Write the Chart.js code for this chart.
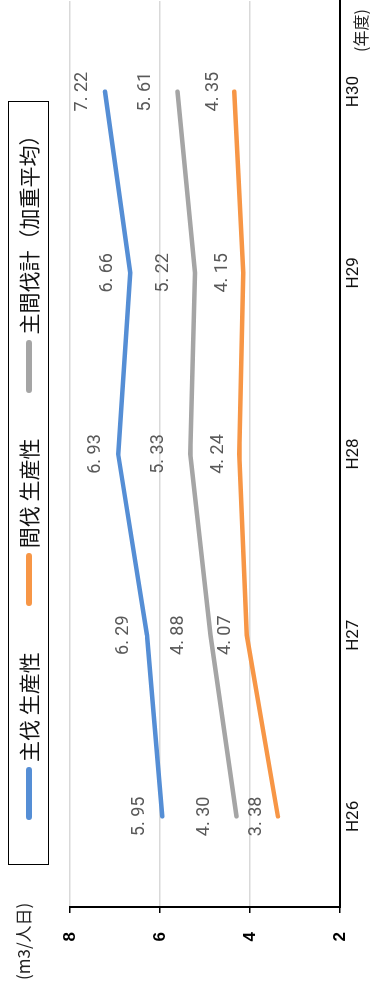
<!DOCTYPE html>
<html>
<head>
<meta charset="utf-8">
<script src="https://cdn.jsdelivr.net/npm/chart.js@4/dist/chart.umd.min.js"></script>
<style>
    html, body { margin: 0; padding: 0; background: #fff; }
    body { width: 370px; height: 988px; overflow: hidden; position: relative; }
    #wrap {
        position: absolute; left: 0; top: 0;
        width: 988px; height: 370px;
        transform-origin: top left;
        transform: translate(0, 988px) rotate(-90deg);
        font-family: 'Noto Sans CJK JP', sans-serif;
    }
    #chart { position: absolute; left: 0; top: 0; }
    #legend {
        position: absolute; left: 123px; top: 8px; width: 764px; height: 41px;
        box-sizing: border-box; border: 1px solid #000;
        display: flex; align-items: center; padding-left: 44px; gap: 46px;
    }
    .item { display: flex; align-items: center; }
    .swatch { width: 53px; height: 6px; border-radius: 3px; margin-right: 5px; }
    .item span { font-size: 21px; color: #111; white-space: nowrap; line-height: 1; }
    .unit { position: absolute; font-size: 17px; color: #222; white-space: nowrap; line-height: 1; }
</style>
</head>
<body>
<div id="wrap">
    <canvas id="chart" width="988" height="370"></canvas>
    <div id="legend"></div>
    <div class="unit" id="yUnit" style="left: 8px; top: 14px;">(m3/人日)</div>
    <div class="unit" id="xUnit" style="left: 936px; top: 352px; font-size: 16px;">(年度)</div>
</div>
<script>
const categories = ['H26', 'H27', 'H28', 'H29', 'H30'];
const mainCut = [5.95, 6.29, 6.93, 6.66, 7.22];
const thinning = [3.38, 4.07, 4.24, 4.15, 4.35];
const combined = [4.30, 4.88, 5.33, 5.22, 5.61];
const seriesNames = ['主伐 生産性', '間伐 生産性', '主間伐計（加重平均）'];
const yMin = 2, yMax = 8, yStep = 2;

const colors = ['#558ED5', '#F79646', '#A5A5A5'];
const labelOffsets = [23, 21, 32];

// value labels above each point
const valueLabels = {
    id: 'valueLabels',
    afterDatasetsDraw(chart) {
        const ctx = chart.ctx;
        ctx.save();
        ctx.font = '18px Roboto, sans-serif';
        ctx.fillStyle = '#595959';
        ctx.textAlign = 'center';
        ctx.textBaseline = 'middle';
        chart.data.datasets.forEach((ds, i) => {
            chart.getDatasetMeta(i).data.forEach((pt, j) => {
                const txt = ds.data[j].toFixed(2).replace('.', '. ');
                ctx.fillText(txt, pt.x, pt.y - ds.labelOffset);
            });
        });
        ctx.restore();
    }
};

const datasets = [mainCut, thinning, combined].map((d, i) => ({
    label: seriesNames[i],
    data: d,
    borderColor: colors[i],
    backgroundColor: colors[i],
    borderWidth: 4.5,
    borderCapStyle: 'round',
    pointRadius: 0,
    tension: 0,
    labelOffset: labelOffsets[i]
}));

new Chart(document.getElementById('chart').getContext('2d'), {
    type: 'line',
    data: { labels: categories, datasets: datasets },
    options: {
        responsive: false,
        animation: false,
        devicePixelRatio: 1,
        layout: { padding: { top: 70, right: 1, left: 0, bottom: 0 } },
        plugins: {
            legend: { display: false },
            tooltip: { enabled: false }
        },
        scales: {
            x: {
                offset: true,
                grid: { display: false, drawTicks: false },
                border: { color: '#000', width: 2 },
                ticks: {
                    padding: 4,
                    color: '#111',
                    font: { family: "'Liberation Sans Narrow', Roboto, sans-serif", size: 17 }
                },
                afterFit(scale) { scale.height = 30; }
            },
            y: {
                min: yMin,
                max: yMax,
                ticks: {
                    stepSize: yStep,
                    padding: 19,
                    color: '#000',
                    font: { family: "'Liberation Sans', Arial, sans-serif", size: 17, weight: 'bold' }
                },
                grid: { color: '#D9D9D9', lineWidth: 1.5, tickColor: '#000', tickLength: 6 },
                border: { color: '#000', width: 2 },
                afterFit(scale) { scale.width = 81; }
            }
        }
    },
    plugins: [valueLabels]
});

const legendEl = document.getElementById('legend');
legendEl.innerHTML = seriesNames.map((name, i) => `
    <div class="item"><div class="swatch" style="background:${colors[i]}"></div><span>${name}</span></div>
`).join('');
</script>
</body>
</html>
